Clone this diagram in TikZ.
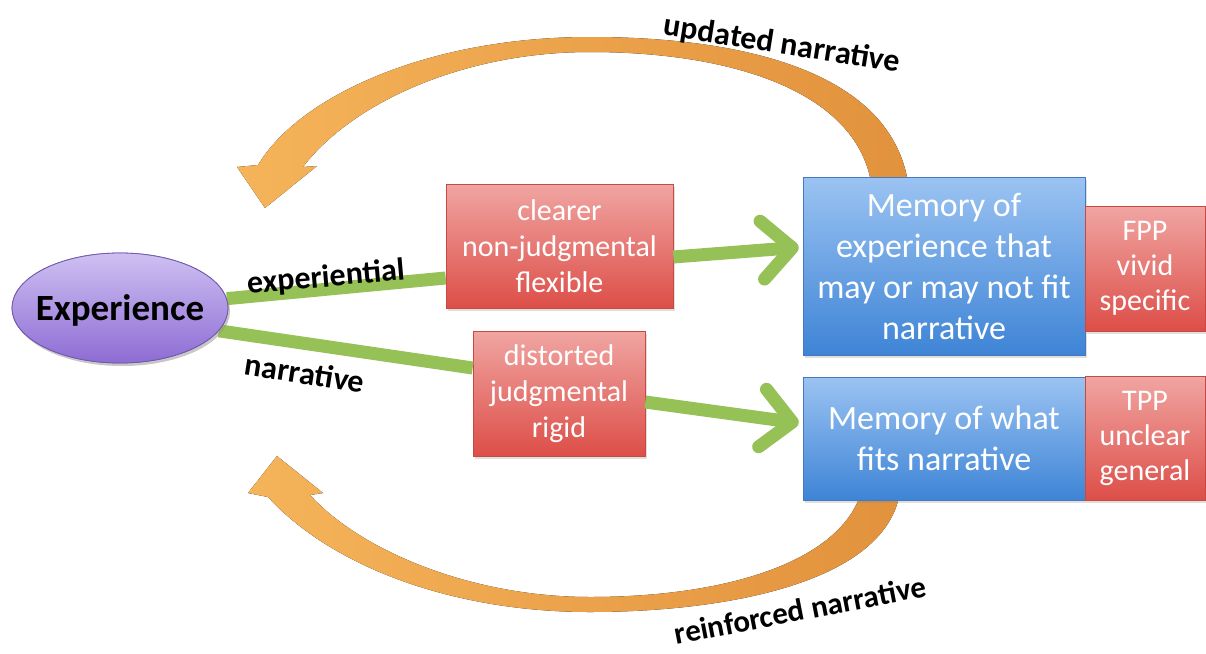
\documentclass[tikz,border=0pt]{standalone}
\usepackage{fontspec}
\setmainfont{Carlito}
\usetikzlibrary{arrows.meta,shadows,calc,shapes.geometric}
\definecolor{redtop}{RGB}{240,165,162}
\definecolor{redbot}{RGB}{221,78,72}
\definecolor{redline}{RGB}{200,72,66}
\definecolor{bluetop}{RGB}{155,195,242}
\definecolor{bluebot}{RGB}{62,132,214}
\definecolor{blueline}{RGB}{70,120,190}
\definecolor{purtop}{RGB}{206,192,242}
\definecolor{purbot}{RGB}{142,108,212}
\definecolor{purline}{RGB}{112,88,172}
\definecolor{grn}{RGB}{150,193,86}
\definecolor{orlight}{RGB}{245,180,90}
\definecolor{ordark}{RGB}{226,146,60}
\begin{document}
\begin{tikzpicture}[x=1pt,y=-1pt,
  shade/.style={drop shadow={opacity=0.25,shadow xshift=2pt,shadow yshift=-3pt}},
  redbox/.style={rectangle,top color=redtop,bottom color=redbot,draw=redline,line width=0.6pt,
    text=white,align=center,inner sep=0pt,font=\fontsize{30}{36}\selectfont,shade},
  sidebox/.style={redbox,font=\fontsize{30}{35}\selectfont},
  bluebox/.style={rectangle,top color=bluetop,bottom color=bluebot,draw=blueline,line width=0.6pt,
    text=white,align=center,inner sep=0pt,font=\fontsize{34}{41}\selectfont,shade},
  expnode/.style={ellipse,top color=purtop,bottom color=purbot,draw=purline,line width=0.8pt,
    inner sep=0pt,shade},
  exptext/.style={font=\fontsize{37}{44}\selectfont\bfseries,inner sep=0pt},
  greenline/.style={draw=grn,line width=13pt},
  garrow/.style={greenline,-{Straight Barb[length=30pt,width=58pt,round]},shorten >=4pt},
  lbl/.style={font=\fontsize{32}{38}\selectfont\bfseries,inner sep=0pt},
  orangearc/.style={left color=orlight,right color=ordark}
]
\useasboundingbox (0,0) rectangle (1206,653);

% orange curved arrows
\fill[orangearc] (907,177) .. controls (885,70) and (740,37) .. (590,37)
  .. controls (430,37) and (300,95) .. (258,165)
  -- (237,167) -- (265,208) -- (317,166) -- (303,167)
  .. controls (350,105) and (460,52) .. (590,52)
  .. controls (730,52) and (850,90) .. (870,177) -- cycle;
\fill[orangearc] (898,501) .. controls (875,585) and (720,612) .. (590,612)
  .. controls (450,612) and (330,565) .. (268,497)
  -- (248,493) -- (277,456) -- (323,493) -- (310,495)
  .. controls (360,550) and (470,597) .. (590,597)
  .. controls (720,597) and (830,565) .. (858,501) -- cycle;

% nodes
\node[expnode,minimum width=216pt,minimum height=110pt] (exp) at (120,308) {};
\node[redbox,minimum width=227pt,minimum height=124pt] (r1) at (559.5,246) {clearer\\non-judgmental\\flexible};
\node[redbox,minimum width=172pt,minimum height=125pt] (r2) at (559,393.5) {distorted\\judgmental\\rigid};
\node[bluebox,minimum width=282pt,minimum height=178pt] (b1) at (944,266) {Memory of\\experience that\\may or may not fit\\narrative};
\node[bluebox,minimum width=282pt,minimum height=123pt] (b2) at (944,438.5) {Memory of what\\fits narrative};
\node[sidebox,minimum width=120pt,minimum height=125pt] (fpp) at (1145,268.5) {FPP\\vivid\\specific};
\node[sidebox,minimum width=120pt,minimum height=124pt] (tpp) at (1145,438) {TPP\\unclear\\general};

% green connectors
\draw[greenline] (exp.5) -- ([shift={(0,32)}]r1.west);
\draw[greenline] (exp.-13) -- ([shift={(0,-25.5)}]r2.west);
\draw[garrow] ([shift={(0,11)}]r1.east) -- ([shift={(0,-19)}]b1.west);
\draw[garrow] ([shift={(0,8.5)}]r2.east) -- ([shift={(0,-15)}]b2.west);
\node[expnode,minimum width=216pt,minimum height=110pt] (expfront) at (exp) {};
\node[exptext] (exptxt) at ([shift={(0,2)}]exp.center) {Experience};

% labels
\node[lbl,rotate=5] (lexp) at (326,278) {experiential};
\node[lbl,rotate=-9] (lnar) at (305,373) {narrative};
\node[lbl,rotate=-9] (lupd) at (782,45) {updated narrative};
\node[lbl,rotate=11,font=\fontsize{31}{37}\selectfont\bfseries] (lrei) at (800,610) {reinforced narrative};
\end{tikzpicture}
\end{document}
